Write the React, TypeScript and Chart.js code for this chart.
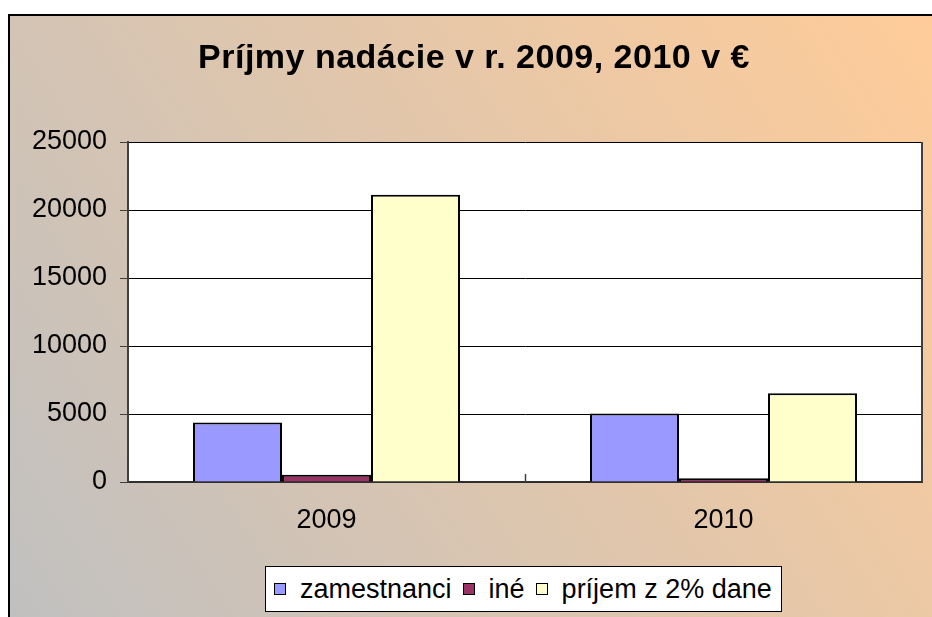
import { useEffect, useRef } from "react";
import { Chart, registerables } from "chart.js";

Chart.register(...registerables);

const categories = ["2009", "2010"];
const seriesNames = ["zamestnanci", "iné", "príjem z 2% dane"];
const zamestnanci = [4380, 5030];
const ine = [540, 270];
const prijem2 = [21120, 6520];
const seriesColors = ["#9999FF", "#993366", "#FFFFCC"];
const yMin = 0;
const yMax = 25000;
const yStep = 5000;
const titleText = "Príjmy nadácie v r. 2009, 2010 v €";

const FONT = "'Liberation Sans', Arial, Helvetica, sans-serif";

const framePlugin = {
  id: "frame",
  beforeDraw(chart: any) {
    const ctx = chart.ctx;
    const W = chart.width;
    const H = chart.height;
    ctx.save();
    ctx.fillStyle = "#ffffff";
    ctx.fillRect(0, 0, W, H);
    const g = ctx.createLinearGradient(8, H, W, 14);
    g.addColorStop(0, "#C0C0C0");
    g.addColorStop(1, "#FFCC99");
    ctx.fillStyle = g;
    ctx.fillRect(8, 14, W - 8, H - 14);
    ctx.strokeStyle = "#000";
    ctx.lineWidth = 2;
    ctx.beginPath();
    ctx.moveTo(9, H);
    ctx.lineTo(9, 15);
    ctx.lineTo(W, 15);
    ctx.stroke();
    const a = chart.chartArea;
    ctx.fillStyle = "#ffffff";
    ctx.fillRect(a.left, a.top, a.right - a.left, a.bottom - a.top);
    ctx.restore();
  },
  afterDatasetsDraw(chart: any) {
    const ctx = chart.ctx;
    const a = chart.chartArea;
    const n = categories.length;
    ctx.save();
    ctx.strokeStyle = "#404040";
    ctx.lineWidth = 2;
    ctx.beginPath();
    ctx.moveTo(a.right, a.top);
    ctx.lineTo(a.right, a.bottom);
    ctx.stroke();
    ctx.lineWidth = 1.5;
    for (let i = 1; i < n; i++) {
      const x = Math.round(a.left + ((a.right - a.left) * i) / n) + 0.5;
      ctx.beginPath();
      ctx.moveTo(x, a.bottom);
      ctx.lineTo(x, a.bottom - 8);
      ctx.stroke();
    }
    ctx.restore();
  },
};

export default function App() {
  const ref = useRef<HTMLCanvasElement | null>(null);

  useEffect(() => {
    document.body.style.margin = "0";
    if (!ref.current) return;
    const series = [zamestnanci, ine, prijem2];
    const chart = new Chart(ref.current, {
      type: "bar",
      data: {
        labels: categories,
        datasets: series.map((d, i) => ({
          label: seriesNames[i],
          data: d,
          backgroundColor: seriesColors[i],
          borderColor: "#000000",
          borderWidth: 2,
          barPercentage: 1,
          categoryPercentage: 0.6725,
        })),
      },
      options: {
        responsive: false,
        animation: false,
        layout: { padding: { left: 0, top: 142, right: 10, bottom: 65 } },
        plugins: {
          legend: { display: false },
          title: { display: false },
          tooltip: { enabled: false },
        },
        scales: {
          x: {
            grid: { display: false, drawTicks: false },
            border: { display: true, color: "#303030", width: 2 },
            ticks: {
              color: "#000",
              font: { family: FONT, size: 27 },
              padding: 22,
            },
            afterFit: (s: any) => {
              s.height = 70;
            },
          },
          y: {
            min: yMin,
            max: yMax,
            grid: {
              color: "#000000",
              lineWidth: 1,
              tickColor: "#404040",
              tickLength: 8,
              drawTicks: true,
            },
            border: { display: true, color: "#404040", width: 2 },
            ticks: {
              stepSize: yStep,
              color: "#000",
              font: { family: FONT, size: 27 },
              padding: 13,
              callback: (v: any) => String(v),
            },
            afterFit: (s: any) => {
              s.width = 128;
            },
          },
        },
      },
      plugins: [framePlugin],
    });
    return () => chart.destroy();
  }, []);

  return (
    <div style={{ position: "relative", width: 932, height: 617, overflow: "hidden" }}>
      <canvas ref={ref} width={932} height={617} style={{ display: "block", width: 932, height: 617 }} />
      <div
        style={{
          position: "absolute",
          left: 0,
          top: 37,
          width: 948,
          textAlign: "center",
          fontFamily: FONT,
          fontWeight: "bold",
          fontSize: 34,
          letterSpacing: 0.5,
          lineHeight: "38px",
          color: "#000",
          whiteSpace: "nowrap",
        }}
      >
        {titleText}
      </div>
      <div
        style={{
          position: "absolute",
          left: 265,
          top: 566,
          width: 517,
          height: 46,
          boxSizing: "border-box",
          border: "1px solid #000",
          background: "#ffffff",
          display: "flex",
          alignItems: "center",
          paddingLeft: 8,
          fontFamily: FONT,
          fontSize: 27,
          lineHeight: 1,
          color: "#000",
          whiteSpace: "nowrap",
        }}
      >
        {seriesNames.map((name, i) => (
          <div key={name} style={{ display: "flex", alignItems: "center", marginRight: 11 }}>
            <span
              style={{
                display: "inline-block",
                width: 12,
                height: 12,
                boxSizing: "border-box",
                border: "1.5px solid #000",
                background: seriesColors[i],
                marginRight: 14,
              }}
            />
            <span>{name}</span>
          </div>
        ))}
      </div>
    </div>
  );
}
